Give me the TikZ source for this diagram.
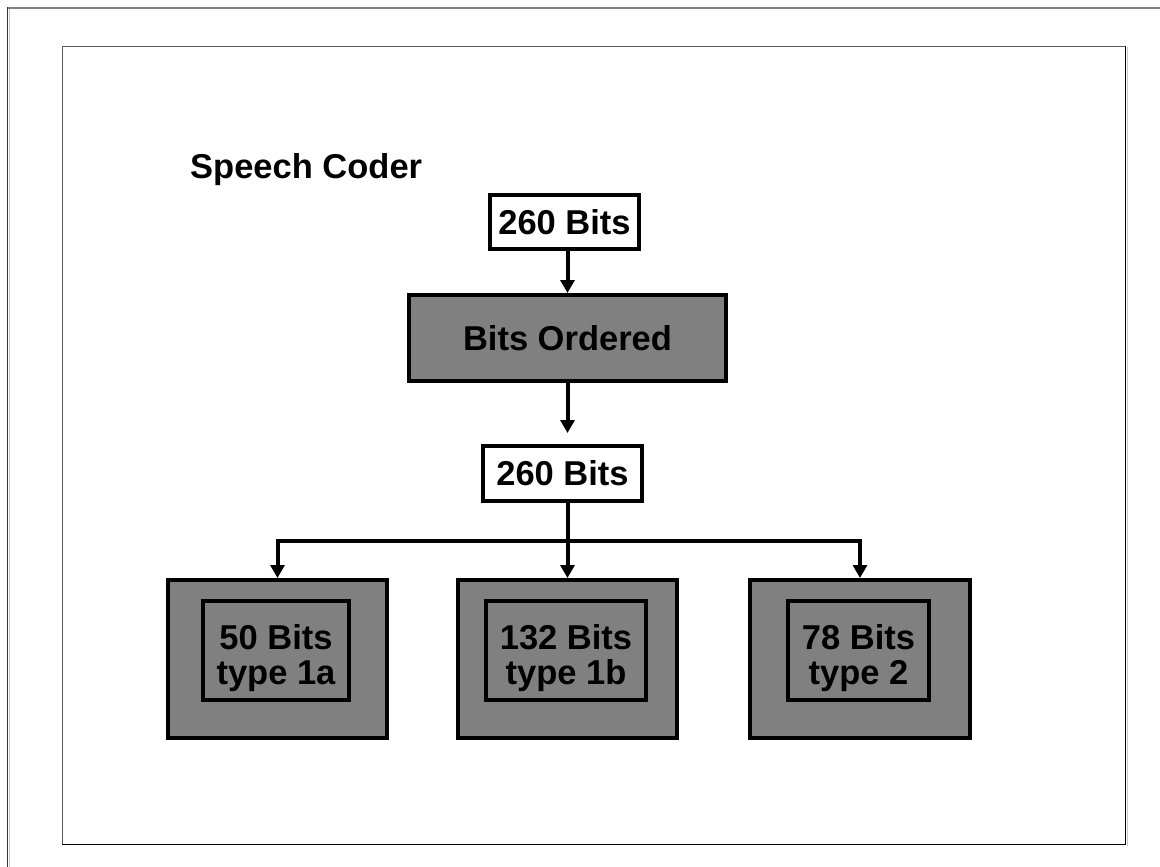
\documentclass[tikz,border=0pt]{standalone}
\usepackage{fontspec}
\setmainfont{Liberation Sans}
\usetikzlibrary{arrows.meta,calc}
\definecolor{boxgrey}{HTML}{808080}
\definecolor{framegrey}{HTML}{5A5A5A}
\definecolor{shadegrey}{HTML}{C8C8C8}
\begin{document}
\begin{tikzpicture}[x=1pt,y=-1pt,
  txt/.style={font=\fontsize{34.5}{35}\selectfont\bfseries, text=black},
  whitebox/.style={draw=black, line width=4pt, fill=white, inner sep=0pt, txt},
  greybox/.style={draw=black, line width=4pt, fill=boxgrey, inner sep=0pt, txt},
  lbl/.style={txt, align=center, inner sep=0pt},
  arr/.style={line width=4pt, -{Triangle[width=14pt,length=13pt]}},
  wire/.style={line width=4pt}]
  \useasboundingbox (0,0) rectangle (1160,867);

  % page frames
  \draw[boxgrey, line width=2pt] (7,8) -- (1160,8);
  \draw[black!80, line width=1.5pt] (7.5,7) -- (7.5,867);
  \draw[shadegrey, line width=1pt] (9,9) -- (9,867);
  \draw[shadegrey, line width=1pt] (1127.5,47) -- (1127.5,846);
  \draw[framegrey, line width=1.5pt] (62.5,845) -- (62.5,46.5) -- (1125.5,46.5);
  \draw[black, line width=1.5pt] (1125.5,46) -- (1125.5,844.5) -- (62,844.5);

  % title
  \node[txt, anchor=base west, inner sep=0pt] (title) at (190,178) {Speech Coder};

  % main chain
  \node[whitebox, minimum width=149pt, minimum height=54pt] (topbits) at (564.5,222) {260 Bits};
  \node[greybox, minimum width=317pt, minimum height=86pt] (order) at (567.5,338) {Bits Ordered};
  \node[whitebox, minimum width=159pt, minimum height=55pt] (midbits) at (562.5,473.5) {260 Bits};

  % bit classes
  \node[greybox, minimum width=219pt, minimum height=158pt] (cls1) at (277.5,659) {};
  \node[greybox, minimum width=219pt, minimum height=158pt] (cls2) at (567.5,659) {};
  \node[greybox, minimum width=220pt, minimum height=158pt] (cls3) at (860,659) {};
  \node[greybox, minimum width=146pt, minimum height=99pt] (in1) at (276,650.5) {};
  \node[greybox, minimum width=160pt, minimum height=99pt] (in2) at (566,650.5) {};
  \node[greybox, minimum width=141pt, minimum height=99pt] (in3) at (858.5,650.5) {};
  \node[lbl] (t1) at ([yshift=-8pt]in1.center) {50 Bits\\type 1a};
  \node[lbl] (t2) at ([yshift=-8pt]in2.center) {132 Bits\\type 1b};
  \node[lbl] (t3) at ([yshift=-8pt]in3.center) {78 Bits\\type 2};

  % connectors
  \draw[arr] (topbits.south -| order.north) -- (order.north);
  \draw[arr] (order.south) -- ([yshift=11pt]midbits.north -| order.south);
  \coordinate (split) at (order.south |- 0,541);
  \draw[wire] (midbits.south -| order.south) -- (split);
  \draw[wire, line cap=rect] (split -| cls1.north) -- (split -| cls3.north);
  \draw[arr] (split -| cls1.north) -- (cls1.north);
  \draw[arr] (split) -- (cls2.north);
  \draw[arr] (split -| cls3.north) -- (cls3.north);
\end{tikzpicture}
\end{document}
